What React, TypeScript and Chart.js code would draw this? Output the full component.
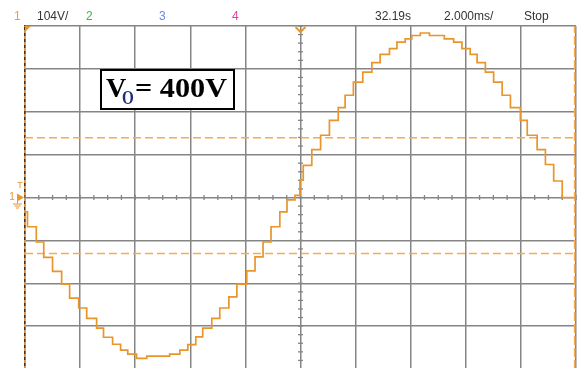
import React, { useEffect, useRef } from "react";
import { Chart, registerables } from "chart.js";

Chart.register(...registerables);

// Trace: start time of each held level (ms) and its level (V)
const timeMs = [0, 0.09, 0.41, 0.68, 1.0, 1.33, 1.62, 1.95, 2.24, 2.6, 2.85, 3.18, 3.47, 3.73, 4.05, 4.42, 5.25, 5.62, 5.91, 6.2, 6.45, 6.78, 7.07, 7.4, 7.69, 8.05, 8.35, 8.64, 8.93, 9.25, 9.51, 9.8, 9.98, 10.1, 10.41, 10.73, 11.05, 11.37, 11.62, 11.92, 12.26, 12.59, 12.89, 13.23, 13.5, 13.8, 14.04, 14.35, 14.68, 15.22, 15.56, 15.86, 16.16, 16.41, 16.71, 17.01, 17.32, 17.62, 17.98, 18.23, 18.59, 18.89, 19.19, 19.5, 19.8, 19.9];
const volts = [0, -35, -71, -108, -145, -179, -210, -244, -268, -293, -317, -339, -356, -370, -380, -390, -385, -380, -370, -357, -338, -317, -293, -268, -241, -210, -178, -144, -108, -71, -35, -6, 5, 42, 78, 116, 151, 187, 218, 248, 280, 304, 327, 347, 361, 377, 385, 393, 399, 393, 385, 377, 361, 347, 327, 304, 280, 248, 218, 187, 151, 116, 80, 40, 0, 0];

// Cursors
const hCursorVolts = [145, -136];
const vCursorMs = [0, 19.95];

// Scale settings (10 x 8 divisions)
const voltsPerDiv = 104;
const msPerDiv = 2;
const xDivs = 10;
const yDivsHalf = 4;

// Header texts
const headerTexts = ["1", "104V/", "2", "3", "4", "32.19s", "2.000ms/", "Stop"];
const headerColors = ["#F0A030", "#333333", "#33BB33", "#6688EE", "#E040A0", "#333333", "#333333", "#333333"];
const headerX = [14, 37, 86, 159, 232, 375, 444, 524];

const annotationMain = "V";
const annotationSub = "O";
const annotationRest = "= 400V";

const TRACE = "#E8952C";
const CURSOR = "#F7AA50";
const GRID = "#858585";

const decorPlugin = {
  id: "decor",
  beforeDatasetsDraw(chart: any) {
    const { ctx, scales } = chart;
    const x = scales.x;
    const y = scales.y;
    const cx = x.getPixelForValue((xDivs * msPerDiv) / 2);
    const cy = y.getPixelForValue(0);
    ctx.save();
    ctx.strokeStyle = GRID;
    ctx.lineWidth = 1.3;
    for (let i = 0; i <= xDivs * 4; i++) {
      const px = x.getPixelForValue((i * msPerDiv) / 4);
      ctx.beginPath();
      ctx.moveTo(px, cy - 2.5);
      ctx.lineTo(px, cy + 2.5);
      ctx.stroke();
    }
    for (let i = -yDivsHalf * 5; i <= yDivsHalf * 5; i++) {
      const py = y.getPixelForValue((i * voltsPerDiv) / 5);
      ctx.beginPath();
      ctx.moveTo(cx - 2.5, py);
      ctx.lineTo(cx + 2.5, py);
      ctx.stroke();
    }
    ctx.restore();
  },
  afterDraw(chart: any) {
    const { ctx, chartArea, scales } = chart;
    const x = scales.x;
    const y = scales.y;
    ctx.save();
    // header
    ctx.font = '12px "Liberation Sans", Arial, sans-serif';
    ctx.textBaseline = "middle";
    ctx.textAlign = "left";
    headerTexts.forEach((t, i) => {
      ctx.fillStyle = headerColors[i];
      ctx.fillText(t, headerX[i], 17);
    });

    // annotation box
    ctx.fillStyle = "#ffffff";
    ctx.fillRect(100, 69, 135, 41);
    ctx.strokeStyle = "#000000";
    ctx.lineWidth = 2;
    ctx.strokeRect(101, 70, 133, 39);
    ctx.fillStyle = "#000000";
    ctx.textBaseline = "alphabetic";
    ctx.font = 'bold 28px "Liberation Serif", "Times New Roman", serif';
    ctx.fillText(annotationMain, 106, 97);
    ctx.fillStyle = "#1c2f78";
    ctx.font = 'bold 19px "Liberation Serif", "Times New Roman", serif';
    ctx.save();
    ctx.translate(122, 104);
    ctx.scale(0.8, 1);
    ctx.fillText(annotationSub, 0, 0);
    ctx.restore();
    ctx.fillStyle = "#000000";
    ctx.font = 'bold 28px "Liberation Serif", "Times New Roman", serif';
    const w = ctx.measureText(annotationRest).width;
    ctx.save();
    ctx.translate(135, 97);
    ctx.scale(92 / w, 1);
    ctx.fillText(annotationRest, 0, 0);
    ctx.restore();

    // top trigger marker
    const cx = x.getPixelForValue((xDivs * msPerDiv) / 2);
    const top = chartArea.top;
    ctx.strokeStyle = TRACE;
    ctx.lineWidth = 2;
    ctx.beginPath();
    ctx.moveTo(cx - 5, top + 1);
    ctx.lineTo(cx, top + 6);
    ctx.lineTo(cx + 5, top + 1);
    ctx.stroke();
    // top-left marker
    ctx.fillStyle = TRACE;
    ctx.beginPath();
    ctx.moveTo(chartArea.left, top);
    ctx.lineTo(chartArea.left + 6, top);
    ctx.lineTo(chartArea.left, top + 6);
    ctx.closePath();
    ctx.fill();

    // left channel/trigger marker
    const cy = y.getPixelForValue(0);
    ctx.fillStyle = TRACE;
    ctx.font = '9px "Liberation Sans", Arial, sans-serif';
    ctx.textAlign = "center";
    ctx.textBaseline = "middle";
    ctx.fillText("T", 20, cy - 12);
    ctx.font = '10px "Liberation Sans", Arial, sans-serif';
    ctx.fillText("1", 12, cy);
    ctx.beginPath();
    ctx.moveTo(17, cy - 4);
    ctx.lineTo(17, cy + 4);
    ctx.lineTo(24, cy);
    ctx.closePath();
    ctx.fill();
    ctx.lineWidth = 1;
    ctx.beginPath();
    ctx.moveTo(17.5, cy + 3);
    ctx.lineTo(17.5, cy + 6);
    ctx.moveTo(13, cy + 6.5);
    ctx.lineTo(22, cy + 6.5);
    ctx.moveTo(14.5, cy + 8.5);
    ctx.lineTo(20.5, cy + 8.5);
    ctx.moveTo(16, cy + 10.5);
    ctx.lineTo(19, cy + 10.5);
    ctx.stroke();
    ctx.restore();
  },
};

export default function App() {
  const ref = useRef<HTMLCanvasElement | null>(null);
  useEffect(() => {
    if (!ref.current) return;
    const yMax = voltsPerDiv * yDivsHalf;
    const xMax = msPerDiv * xDivs;
    const trace = timeMs.map((t, i) => ({ x: t, y: volts[i] }));
    const datasets: any[] = [
      {
        data: trace,
        borderColor: TRACE,
        borderWidth: 1.7,
        stepped: "after",
        pointRadius: 0,
        fill: false,
        order: 0,
      },
    ];
    hCursorVolts.forEach((v) =>
      datasets.push({
        data: [
          { x: 0, y: v },
          { x: xMax, y: v },
        ],
        borderColor: CURSOR,
        borderWidth: 1.4,
        borderDash: [8, 4],
        pointRadius: 0,
        order: 1,
      })
    );
    vCursorMs.forEach((t) =>
      datasets.push({
        data: [
          { x: t, y: -yMax },
          { x: t, y: yMax },
        ],
        borderColor: CURSOR,
        borderWidth: 1.6,
        borderDash: t === 0 ? [3, 3] : [9, 3],
        pointRadius: 0,
        order: 1,
        clip: false,
      })
    );
    const chart = new Chart(ref.current, {
      type: "line",
      data: { datasets },
      options: {
        animation: false,
        responsive: false,
        devicePixelRatio: 1,
        layout: { padding: { left: 25, top: 26, right: 4, bottom: 1 } },
        plugins: { legend: { display: false }, tooltip: { enabled: false } },
        scales: {
          x: {
            type: "linear",
            min: 0,
            max: xMax,
            ticks: { display: false, stepSize: msPerDiv },
            grid: { color: GRID, lineWidth: 1.5, drawTicks: false },
            border: { display: true, color: "#555555", width: 1.5 },
          },
          y: {
            type: "linear",
            min: -yMax,
            max: yMax,
            ticks: { display: false, stepSize: voltsPerDiv },
            grid: { color: GRID, lineWidth: 1.5, drawTicks: false },
            border: { display: true, color: "#333333", width: 1.5 },
          },
        },
      } as any,
      plugins: [decorPlugin],
    });
    return () => chart.destroy();
  }, []);
  return (
    <div
      style={{
        position: "fixed",
        left: 0,
        top: 0,
        width: 580,
        height: 368,
        overflow: "hidden",
        background: "#ffffff",
      }}
    >
      <canvas ref={ref} width={580} height={370} style={{ width: 580, height: 370, display: "block" }} />
    </div>
  );
}
